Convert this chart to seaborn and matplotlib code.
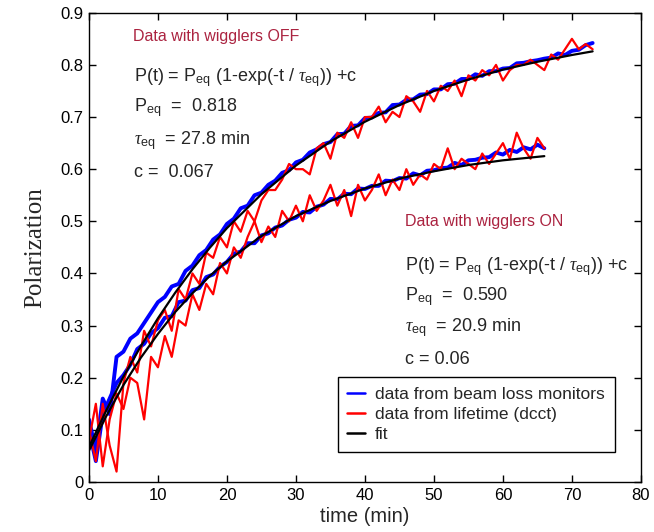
import matplotlib
matplotlib.use("Agg")
import matplotlib.pyplot as plt
import seaborn as sns

# time axes (minutes)
t_off = list(range(0, 74))
t_on = list(range(0, 67))

# wigglers OFF
blue_off = [0.12, 0.06, 0.16, 0.13, 0.24, 0.25, 0.275, 0.285, 0.305, 0.325,
            0.345, 0.355, 0.375, 0.38, 0.405, 0.415, 0.435, 0.445, 0.465, 0.475,
            0.495, 0.505, 0.525, 0.53, 0.55, 0.555, 0.57, 0.578, 0.593, 0.598,
            0.613, 0.618, 0.632, 0.638, 0.648, 0.652, 0.667, 0.668, 0.683, 0.684,
            0.698, 0.699, 0.708, 0.709, 0.723, 0.724, 0.733, 0.734, 0.743, 0.744,
            0.753, 0.753, 0.763, 0.764, 0.773, 0.773, 0.782, 0.779, 0.788, 0.788,
            0.793, 0.794, 0.803, 0.804, 0.807, 0.809, 0.812, 0.814, 0.822, 0.819,
            0.827, 0.829, 0.838, 0.842]
red_off = [0.10, 0.04, 0.15, 0.07, 0.02, 0.19, 0.24, 0.21, 0.29, 0.26,
           0.31, 0.33, 0.29, 0.37, 0.35, 0.40, 0.38, 0.44, 0.43, 0.47,
           0.45, 0.50, 0.48, 0.52, 0.50, 0.54, 0.56, 0.56, 0.58, 0.61,
           0.60, 0.60, 0.59, 0.64, 0.65, 0.62, 0.67, 0.66, 0.69, 0.66,
           0.70, 0.70, 0.72, 0.69, 0.71, 0.70, 0.74, 0.73, 0.71, 0.75,
           0.73, 0.76, 0.75, 0.77, 0.74, 0.78, 0.77, 0.79, 0.78, 0.80,
           0.77, 0.79, 0.80, 0.80, 0.81, 0.80, 0.79, 0.82, 0.81, 0.83,
           0.85, 0.83, 0.84, 0.83]
fit_t_off = [0, 2.5, 5, 7.5, 10, 12.5, 15, 17.5, 20, 25, 30, 35, 40, 45, 50,
             55, 60, 65, 70, 73]
fit_off = [0.067, 0.137, 0.202, 0.260, 0.314, 0.363, 0.408, 0.449, 0.487,
           0.552, 0.607, 0.653, 0.691, 0.723, 0.750, 0.772, 0.791, 0.806,
           0.819, 0.826]

# wigglers ON
blue_on = [0.10, 0.04, 0.13, 0.16, 0.19, 0.205, 0.225, 0.255, 0.265, 0.285,
           0.295, 0.315, 0.318, 0.345, 0.348, 0.368, 0.372, 0.393, 0.398, 0.413,
           0.422, 0.438, 0.442, 0.458, 0.458, 0.473, 0.477, 0.488, 0.492, 0.503,
           0.507, 0.518, 0.517, 0.528, 0.532, 0.543, 0.542, 0.553, 0.552, 0.563,
           0.562, 0.568, 0.568, 0.578, 0.577, 0.583, 0.582, 0.592, 0.588, 0.597,
           0.598, 0.602, 0.603, 0.612, 0.608, 0.617, 0.618, 0.622, 0.623, 0.632,
           0.628, 0.637, 0.633, 0.642, 0.638, 0.647, 0.640]
red_on = [0.08, 0.15, 0.03, 0.12, 0.17, 0.14, 0.20, 0.19, 0.12, 0.24,
          0.22, 0.28, 0.24, 0.31, 0.30, 0.36, 0.33, 0.38, 0.36, 0.42,
          0.40, 0.45, 0.43, 0.47, 0.50, 0.46, 0.49, 0.47, 0.52, 0.50,
          0.53, 0.50, 0.55, 0.52, 0.54, 0.57, 0.53, 0.56, 0.51, 0.57,
          0.54, 0.56, 0.59, 0.55, 0.58, 0.56, 0.60, 0.57, 0.59, 0.58,
          0.61, 0.60, 0.64, 0.60, 0.62, 0.61, 0.60, 0.63, 0.61, 0.63,
          0.65, 0.62, 0.67, 0.64, 0.62, 0.66, 0.64]
fit_t_on = [0, 2.5, 5, 7.5, 10, 12.5, 15, 17.5, 20, 25, 30, 35, 40, 45, 50,
            55, 60, 66]
fit_on = [0.060, 0.126, 0.186, 0.238, 0.284, 0.326, 0.362, 0.395, 0.423,
          0.472, 0.510, 0.539, 0.563, 0.582, 0.596, 0.608, 0.617, 0.625]

x_ticks = [0, 10, 20, 30, 40, 50, 60, 70, 80]
y_ticks = [0, 0.1, 0.2, 0.3, 0.4, 0.5, 0.6, 0.7, 0.8, 0.9]
y_tick_labels = ["0", "0.1", "0.2", "0.3", "0.4", "0.5", "0.6", "0.7", "0.8", "0.9"]

sns.set_style("ticks")
plt.rcParams["font.family"] = ["Liberation Sans", "DejaVu Sans"]
plt.rcParams["mathtext.fontset"] = "custom"
plt.rcParams["mathtext.rm"] = "Liberation Sans"
plt.rcParams["mathtext.it"] = "Liberation Serif:italic"
plt.rcParams["mathtext.bf"] = "Liberation Sans:bold"

title_color = "#ab2340"
txt_size = 13

fig, ax = plt.subplots(figsize=(6.54, 5.32), dpi=100)
fig.subplots_adjust(left=0.136, right=0.980, bottom=0.094, top=0.976)

sns.lineplot(x=t_off, y=blue_off, color="blue", lw=2.8, ax=ax,
             label="data from beam loss monitors")
sns.lineplot(x=t_on, y=blue_on, color="blue", lw=2.8, ax=ax)
sns.lineplot(x=t_off, y=red_off, color="red", lw=1.6, ax=ax,
             label="data from lifetime (dcct)")
sns.lineplot(x=t_on, y=red_on, color="red", lw=1.6, ax=ax)
sns.lineplot(x=fit_t_off, y=fit_off, color="black", lw=1.6, ax=ax, label="fit")
sns.lineplot(x=fit_t_on, y=fit_on, color="black", lw=1.6, ax=ax)

ax.set_xlim(0, 80)
ax.set_ylim(0, 0.9)
ax.set_xticks(x_ticks)
ax.set_yticks(y_ticks)
ax.set_yticklabels(y_tick_labels)
ax.tick_params(direction="in", length=5, width=1, top=True, right=True,
               labelsize=12, colors="black", pad=4)
for side in ["top", "right", "left", "bottom"]:
    ax.spines[side].set_visible(True)
    ax.spines[side].set_linewidth(1)
    ax.spines[side].set_color("black")

ax.set_xlabel("time (min)", fontsize=14.5, family="Liberation Sans", labelpad=3)
ax.set_ylabel("Polarization", fontsize=18, family="Liberation Serif", labelpad=10)

eq = r"P(t) = P$_{\rm eq}$ (1-exp(-t / $\tau_{\rm eq}$)) +c"

ax.text(6.4, 0.854, "Data with wigglers OFF", color=title_color, fontsize=11.5, va="center")
ax.text(6.5, 0.775, eq, fontsize=txt_size, va="center")
ax.text(6.5, 0.718, r"P$_{\rm eq}$  =  0.818", fontsize=txt_size, va="center")
ax.text(6.5, 0.655, r"$\tau_{\rm eq}$  = 27.8 min", fontsize=txt_size, va="center")
ax.text(6.5, 0.593, "c =  0.067", fontsize=txt_size, va="center")

ax.text(45.8, 0.499, "Data with wigglers ON", color=title_color, fontsize=11.5, va="center")
ax.text(45.8, 0.413, eq, fontsize=txt_size, va="center")
ax.text(45.8, 0.355, r"P$_{\rm eq}$  =  0.590", fontsize=txt_size, va="center")
ax.text(45.8, 0.296, r"$\tau_{\rm eq}$  = 20.9 min", fontsize=txt_size, va="center")
ax.text(45.8, 0.234, "c = 0.06", fontsize=txt_size, va="center")

leg = ax.legend(loc="lower left", bbox_to_anchor=(0.451, 0.064), fontsize=12.5,
                frameon=True, fancybox=False, edgecolor="black", framealpha=1,
                handlelength=1.0, handletextpad=0.6, labelspacing=0.3,
                borderpad=0.55, borderaxespad=0)
leg.get_frame().set_linewidth(1)
for h in leg.get_lines():
    h.set_linewidth(1.8)

fig.savefig("out.png", dpi=100)
